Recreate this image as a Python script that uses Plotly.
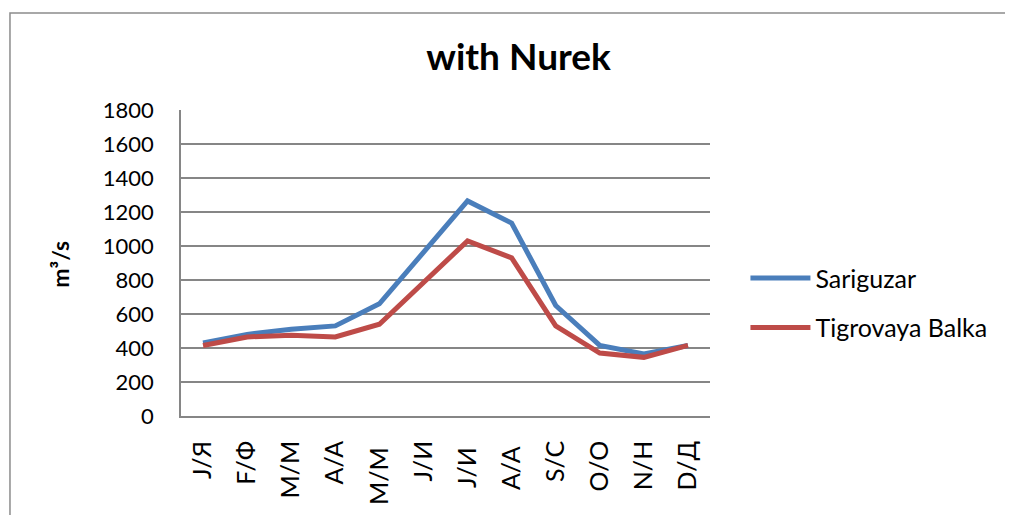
import plotly.graph_objects as go

# months, English / Russian initials
months = ["J/Я", "F/Ф", "M/M", "A/A", "M/M ", "J/И", "J/И ", "A/A ", "S/C", "O/O", "N/H", "D/Д"]
sariguzar = [430, 480, 510, 530, 660, 960, 1265, 1135, 650, 415, 365, 415]
tigrovaya = [415, 465, 475, 465, 540, 790, 1030, 930, 530, 370, 345, 415]
y_ticks = list(range(0, 1801, 200))

font = "Lato, 'Open Sans', sans-serif"

fig = go.Figure()
fig.add_trace(go.Scatter(x=months, y=sariguzar, name="Sariguzar", mode="lines",
                         line=dict(color="#4A7EBB", width=5), legendgroup="a"))
fig.add_trace(go.Scatter(x=months, y=tigrovaya, name="Tigrovaya Balka", mode="lines",
                         line=dict(color="#BE4B48", width=5), legendgroup="b"))

fig.update_layout(
    width=1013, height=515,
    margin=dict(l=173, r=311, t=102, b=107, autoexpand=False),
    paper_bgcolor="white", plot_bgcolor="white",
    font=dict(family=font, size=22, color="black"),
    title=dict(text="<b>with Nurek</b>", x=0.504, xanchor="center", y=0.905, yanchor="middle",
               font=dict(size=37, family=font)),
    showlegend=True,
    legend=dict(x=1.067, y=0.37, xanchor="left", yanchor="middle", tracegroupgap=14,
                itemwidth=60, font=dict(size=25), bgcolor="rgba(0,0,0,0)"),
    shapes=[dict(type="rect", xref="paper", yref="paper", x0=-0.3233, x1=1.7, y0=-0.5, y1=1.317,
                 line=dict(color="#8C8C8C", width=1.5), layer="below")],
    annotations=[dict(text="<b>m³/s</b>", xref="paper", yref="paper", x=-0.229, y=0.497,
                      xanchor="center", yanchor="middle",
                      textangle=-90, showarrow=False, font=dict(size=23))],
)
fig.update_xaxes(type="category", range=[-0.5, 11.5], tickangle=-90, showline=True,
                 linecolor="#868686", linewidth=1.5, showgrid=False, ticks="",
                 ticklabelstandoff=13, tickfont=dict(size=25))
fig.update_yaxes(range=[0, 1800], tickvals=y_ticks, showline=True, linecolor="#868686", linewidth=1.5,
                 showgrid=True, gridcolor="#868686", gridwidth=1.5, zeroline=False, ticks="",
                 ticklabelstandoff=21)

fig.write_html("out.html")
